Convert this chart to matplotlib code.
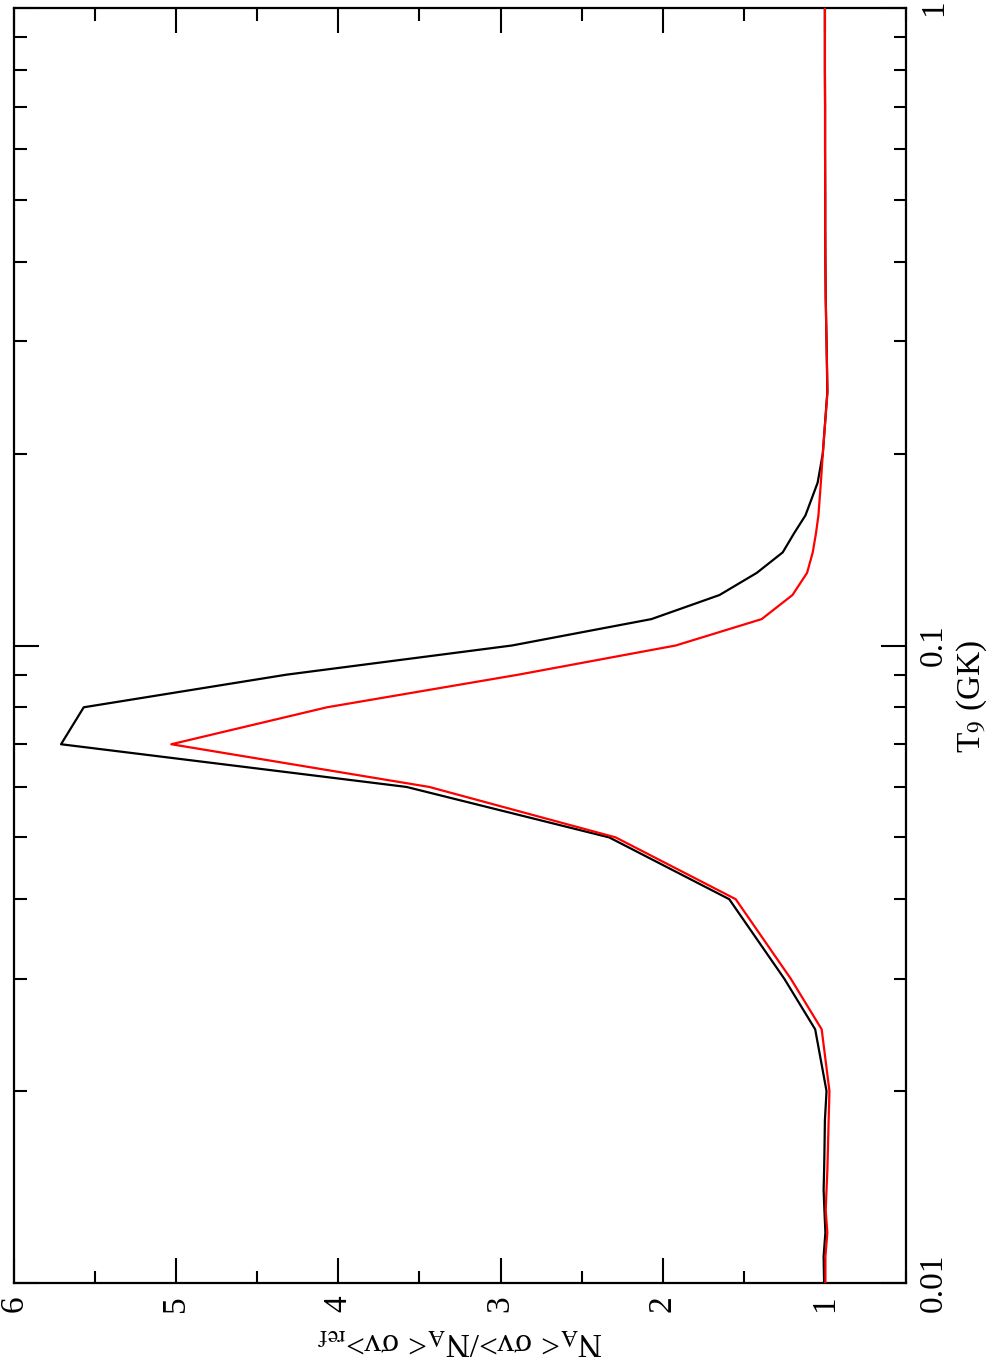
"""
Rate ratio vs. temperature, drawn in portrait (page rotated 90 deg CCW):
T9 runs bottom -> top on a log axis, the ratio runs right -> left.
"""
import matplotlib
matplotlib.use("Agg")
matplotlib.rcParams["font.family"] = ["Liberation Serif", "DejaVu Serif"]
matplotlib.rcParams["mathtext.fontset"] = "stix"

import matplotlib.pyplot as plt
import matplotlib.ticker as ticker

# ---------------------------------------------------------------------------
# Data
# ---------------------------------------------------------------------------
T9 = [0.01, 0.011, 0.012, 0.013, 0.014, 0.015, 0.016, 0.018, 0.02, 0.025,
      0.03, 0.04, 0.05, 0.06, 0.07, 0.08, 0.09, 0.1, 0.11, 0.12, 0.13, 0.14,
      0.15, 0.16, 0.18, 0.2, 0.25, 0.3, 0.35, 0.4, 0.45, 0.5, 0.6, 0.7, 0.8,
      0.9, 1.0]

RATIO_BLACK = [1.005, 1.008, 0.997, 1.003, 1.008, 1.005, 1.003, 1.000, 0.99,
               1.06, 1.25, 1.59, 2.33, 3.58, 5.71, 5.57, 4.32, 2.93, 2.07,
               1.65, 1.42, 1.26, 1.19, 1.12, 1.045, 1.013, 0.985, 0.99, 0.995,
               0.997, 0.998, 0.998, 0.999, 0.999, 1.0, 1.0, 1.0]

RATIO_RED = [0.997, 0.997, 0.985, 0.995, 0.99, 0.985, 0.982, 0.977, 0.972,
             1.02, 1.21, 1.55, 2.29, 3.44, 5.03, 4.07, 2.89, 1.92, 1.39, 1.20,
             1.11, 1.075, 1.055, 1.04, 1.025, 1.013, 0.984, 0.99, 0.995, 0.997,
             0.998, 0.998, 0.999, 0.999, 1.0, 1.0, 1.0]

RATIO_TICKS = [1, 2, 3, 4, 5, 6]
T9_TICKS = [0.01, 0.1, 1.0]
T9_TICK_LABELS = ["0.01", "0.1", "1"]

FONT = 24

# ---------------------------------------------------------------------------
# Figure
# ---------------------------------------------------------------------------
W, H = 996, 1367
fig = plt.figure(figsize=(W / 100, H / 100), dpi=100)
ax = fig.add_axes([14 / W, (H - 1283) / H, (906 - 14) / W, (1283 - 8) / H])

ax.plot(RATIO_BLACK, T9, color="black", linewidth=1.6, zorder=3)
ax.plot(RATIO_RED, T9, color="red", linewidth=1.6, zorder=4)

ax.set_yscale("log")
ax.set_ylim(0.01, 1.0)
ax.set_xlim(6.0, 0.5)

# ratio axis (bottom/top)
ax.set_xticks(RATIO_TICKS)
ax.xaxis.set_minor_locator(ticker.MultipleLocator(0.5))
ax.tick_params(axis="x", which="both", direction="in", bottom=True, top=True,
               width=1.5)
ax.tick_params(axis="x", which="major", length=18, labelsize=FONT,
               labelrotation=90, pad=9)
ax.tick_params(axis="x", which="minor", length=9)

# temperature axis (left/right), labels on the right
ax.set_yticks(T9_TICKS)
ax.set_yticklabels(T9_TICK_LABELS)
ax.yaxis.set_minor_locator(ticker.LogLocator(base=10, subs=range(2, 10)))
ax.yaxis.set_minor_formatter(ticker.NullFormatter())
ax.tick_params(axis="y", which="both", direction="in", left=True, right=True,
               labelleft=False, labelright=True, width=1.5)
ax.tick_params(axis="y", which="major", length=18, labelsize=FONT,
               labelrotation=90, pad=9)
ax.tick_params(axis="y", which="minor", length=9)
for lbl in ax.get_yticklabels():
    lbl.set_verticalalignment("center")

for sp in ax.spines.values():
    sp.set_linewidth(1.6)

# axis titles
ax.yaxis.set_label_position("right")
ax.set_ylabel(r"T$_{9}$ (GK)", fontsize=FONT, rotation=90)
ax.yaxis.set_label_coords((955 - 14) / 892, (1283 - 696) / 1275)

ax.set_xlabel(r"N$_{\mathrm{A}}$< σv>/N$_{\mathrm{A}}$< σv>$_{\mathrm{ref}}$",
              fontsize=FONT, rotation=180)
ax.xaxis.set_label_coords(0.5, (1283 - 1326) / 1275)

fig.savefig("out.png", dpi=100)
